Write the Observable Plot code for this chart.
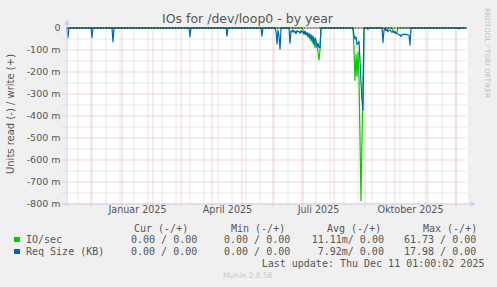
<!DOCTYPE html>
<html><head><meta charset="utf-8">
<script src="https://cdn.jsdelivr.net/npm/d3@7"></script>
<script src="https://cdn.jsdelivr.net/npm/@observablehq/plot@0.6"></script>
<style>
body{margin:0;background:#f0f0f0;}
#wrap{position:relative;width:497px;height:287px;overflow:hidden;background:#f0f0f0;font-family:"DejaVu Sans",sans-serif;}
#wrap svg{position:absolute;left:0;top:0;}
.t{position:absolute;white-space:pre;}
.mono{font-family:"DejaVu Sans Mono",monospace;font-size:10px;line-height:12px;color:#555;}
.box{position:absolute;width:6px;height:5px;}
</style></head><body><div id="wrap"></div>
<script>
// ---- data ----
const title = "IOs for /dev/loop0 - by year";
const yTitle = "Units read (-) / write (+)";
const xDomain = ["2024-11-07", "2025-12-12"];
const monthStarts = ["2024-12-01","2025-01-01","2025-02-01","2025-03-01","2025-04-01","2025-05-01","2025-06-01","2025-07-01","2025-08-01","2025-09-01","2025-10-01","2025-11-01","2025-12-01"];
const minorWeeks = ["2024-11-18","2024-12-02","2024-12-16","2024-12-30","2025-01-13","2025-01-27","2025-02-10","2025-02-24","2025-03-10","2025-03-24","2025-04-07","2025-04-21","2025-05-05","2025-05-19","2025-06-02","2025-06-16","2025-06-30","2025-07-14","2025-07-28","2025-08-11","2025-08-25","2025-09-08","2025-09-22","2025-10-06","2025-10-20","2025-11-03","2025-11-17","2025-12-01"];
const monthLabels = ["Januar 2025","April 2025","Juli 2025","Oktober 2025"];
const monthLabelDates = ["2025-01-16T12:00Z","2025-04-16T12:00Z","2025-07-16T12:00Z","2025-10-16T12:00Z"];
const yMajor = [-800,-700,-600,-500,-400,-300,-200,-100];
const yMinor = [-750,-650,-550,-450,-350,-250,-150,-50];
const yLabelValues = [0,-100,-200,-300,-400,-500,-600,-700,-800];
const yLabels = ["0","-100 m","-200 m","-300 m","-400 m","-500 m","-600 m","-700 m","-800 m"];

// Req Size (KB), read side, milli-units
const reqDates = ["2024-11-07","2024-11-08","2024-11-09","2024-12-01","2024-12-02","2024-12-03","2024-12-22","2024-12-23","2024-12-24",
"2025-03-09","2025-03-10","2025-03-11","2025-04-15","2025-04-16","2025-04-17","2025-05-20","2025-05-21","2025-05-22",
"2025-06-03","2025-06-04","2025-06-05","2025-06-06","2025-06-07","2025-06-08","2025-06-09","2025-06-10",
"2025-06-17","2025-06-18","2025-06-19","2025-06-20","2025-06-21","2025-06-22","2025-06-23","2025-06-24","2025-06-25","2025-06-26","2025-06-27","2025-06-28","2025-06-29","2025-06-30",
"2025-07-01","2025-07-02","2025-07-03","2025-07-04","2025-07-05","2025-07-06","2025-07-07","2025-07-08","2025-07-09","2025-07-10","2025-07-11","2025-07-12","2025-07-13","2025-07-14","2025-07-15","2025-07-16","2025-07-17","2025-07-18","2025-07-19",
"2025-08-20","2025-08-21","2025-08-22","2025-08-23","2025-08-24","2025-08-25","2025-08-26","2025-08-27","2025-08-28","2025-08-29","2025-08-30","2025-08-31",
"2025-09-03","2025-09-04","2025-09-05",
"2025-09-18","2025-09-19","2025-09-20","2025-09-21","2025-09-22","2025-09-23","2025-09-24","2025-09-25","2025-09-26","2025-09-27","2025-09-28","2025-09-29","2025-09-30",
"2025-10-01","2025-10-02","2025-10-03","2025-10-04","2025-10-05","2025-10-06","2025-10-07","2025-10-08","2025-10-09","2025-10-10","2025-10-11","2025-10-12","2025-10-13","2025-10-14","2025-10-15","2025-10-16","2025-10-17",
"2025-12-03","2025-12-04","2025-12-05","2025-12-11"];
const reqValues = [0,-43,0,0,-43,0,0,-63,0,
0,-39,0,0,-37,0,0,-37,0,
0,-15,-72,-10,-35,-96,-5,0,
0,-69,-12,-18,-8,-20,-14,-26,-12,-18,-15,-24,-12,-20,
-16,-28,-14,-30,-22,-38,-26,-48,-30,-55,-36,-75,-45,-58,-86,-70,-88,-90,0,
0,-30,-50,-40,-75,-70,-60,-150,-250,-330,-375,0,
0,-6,0,
0,-66,-10,-3,-13,-5,-17,-10,-8,-15,-20,-14,-18,
-22,-20,-25,-28,-32,-30,-38,-33,-28,-30,-29,-28,-31,-31,-33,-78,0,
0,-4,0,0];

// IO/sec, read side, milli-units
const ioDates = ["2024-11-07","2025-06-30","2025-07-01","2025-07-02","2025-07-03","2025-07-04","2025-07-05","2025-07-06","2025-07-07","2025-07-08","2025-07-09","2025-07-10","2025-07-11","2025-07-12","2025-07-13","2025-07-14","2025-07-15","2025-07-16","2025-07-17","2025-07-18","2025-07-19",
"2025-08-20","2025-08-21","2025-08-22","2025-08-23","2025-08-24","2025-08-25","2025-08-26","2025-08-27","2025-08-28","2025-08-29","2025-08-30","2025-08-31",
"2025-09-28","2025-09-29","2025-09-30","2025-10-01","2025-10-02","2025-10-03","2025-10-04","2025-12-11"];
const ioValues = [0,0,-10,-28,-15,-32,-20,-42,-25,-35,-60,-40,-70,-50,-90,-62,-78,-110,-145,-100,0,
0,-100,-238,-120,-220,-110,-230,-500,-785,-500,-250,0,
0,-12,-22,-14,-26,-18,0,0];

const legendHeader = ["Cur (-/+)","Min (-/+)","Avg (-/+)","Max (-/+)"];
const seriesNames = ["IO/sec","Req Size (KB)"];
const seriesColors = ["#00cc00","#0066b3"];
const statsIO = ["0.00 / 0.00","0.00 / 0.00","11.11m/ 0.00","61.73 / 0.00"];
const statsReq = ["0.00 / 0.00","0.00 / 0.00","7.92m/ 0.00","17.98 / 0.00"];
const lastUpdate = "Last update: Thu Dec 11 01:00:02 2025";
const munin = "Munin 2.0.56";
const rrd = "RRDTOOL / TOBI OETIKER";

// ---- build ----
const D = s => new Date(s);
const req = reqDates.map((d,i)=>({date:D(d), v:reqValues[i]}));
const io = ioDates.map((d,i)=>({date:D(d), v:ioValues[i]}));
const axisCol = "#c9cff2";
const gridCol = "#cdcdcd";
const mgridCol = "#eeaaaa";

const chart = Plot.plot({
  width: 497, height: 287,
  marginLeft: 66.5, marginRight: 30.5, marginTop: 27.5, marginBottom: 83.5,
  x: {type: "utc", domain: xDomain.map(D), axis: null},
  y: {domain: [-800, 0], axis: null},
  style: {background: "transparent", fontFamily: "DejaVu Sans, sans-serif", fontSize: "9.5px", color: "#555", overflow: "visible"},
  marks: [
    Plot.frame({fill: "white", stroke: null, inset: -0.5}),
    Plot.ruleX(minorWeeks.map(D), {stroke: gridCol, strokeDasharray: "1,1", strokeWidth: 1}),
    Plot.ruleY(yMinor, {stroke: gridCol, strokeDasharray: "1,1", insetLeft: -4}),
    Plot.ruleX(monthStarts.map(D), {stroke: mgridCol, strokeDasharray: "1,1", insetBottom: -3}),
    Plot.ruleY(yMajor, {stroke: mgridCol, strokeDasharray: "1,1", insetLeft: -4}),
    Plot.line(io, {x: "date", y: "v", stroke: seriesColors[0], strokeWidth: 1.2, curve: "linear"}),
    Plot.line(req, {x: "date", y: "v", stroke: seriesColors[1], strokeWidth: 1.2, curve: "linear"}),
    Plot.ruleY([0], {stroke: "#000", strokeWidth: 1, strokeDasharray: "2,1"}),
    Plot.ruleX([D(xDomain[0])], {stroke: axisCol, insetTop: -3, insetBottom: -3}),
    Plot.ruleY([-800], {stroke: axisCol, insetLeft: -4, insetRight: -3}),
    Plot.dot([0], {x: () => D(xDomain[0]), y: d => d, symbol: "triangle", r: 2.2, fill: axisCol, stroke: null, dy: -5}),
    Plot.dot([-800], {x: () => D(xDomain[1]), y: d => d, symbol: "triangle", r: 2.2, fill: axisCol, stroke: null, rotate: 90, dx: 5}),
    Plot.text(yLabelValues, {y: d => d, text: (d,i) => yLabels[i], frameAnchor: "left", dx: -6.5, textAnchor: "end", fill: "#555"}),
    Plot.text(monthLabelDates, {x: d => D(d), text: (d,i) => monthLabels[i], frameAnchor: "bottom", dy: 9, fill: "#555", fontSize: 9.6})
  ]
});
const wrap = document.getElementById("wrap");
wrap.appendChild(chart);

function addText(txt, cls, css) {
  const el = document.createElement("div");
  el.className = "t " + cls;
  el.textContent = txt;
  Object.assign(el.style, css);
  wrap.appendChild(el);
  return el;
}
addText(title, "", {left:"0px", top:"10.5px", width:"495px", textAlign:"center", fontSize:"12.5px", lineHeight:"15px", color:"#555"});
addText(yTitle, "", {left:"-59px", top:"108px", width:"140px", height:"12px", textAlign:"center", fontSize:"10px", lineHeight:"12px", color:"#555", transform:"rotate(-90deg)"});
addText(rrd, "", {left:"437px", top:"48px", width:"100px", height:"10px", textAlign:"center", fontSize:"7px", lineHeight:"10px", color:"#c0c0c0", transform:"rotate(90deg)"});
const hdrX = [134, 231, 327, 423];
legendHeader.forEach((h,i)=>addText(h, "mono", {left: hdrX[i]+"px", top:"222.5px"}));
const valX1 = [131, 224, 311.7, 404];
const valX2 = [131, 224, 317.7, 404];
addText(seriesNames[0], "mono", {left:"26px", top:"233.5px"});
addText(seriesNames[1], "mono", {left:"26px", top:"245.5px"});
statsIO.forEach((s,i)=>addText(s, "mono", {left: valX1[i]+"px", top:"233.5px"}));
statsReq.forEach((s,i)=>addText(s, "mono", {left: valX2[i]+"px", top:"245.5px"}));
[237, 249].forEach((t,i)=>{const b=document.createElement("div"); b.className="box"; b.style.left="14px"; b.style.top=t+"px"; b.style.background=seriesColors[i]; wrap.appendChild(b);});
addText(lastUpdate, "mono", {left:"261.7px", top:"257.9px"});
addText(munin, "", {left:"223px", top:"271.4px", fontSize:"7.6px", lineHeight:"10px", color:"#c8c8c8"});
</script></body></html>
